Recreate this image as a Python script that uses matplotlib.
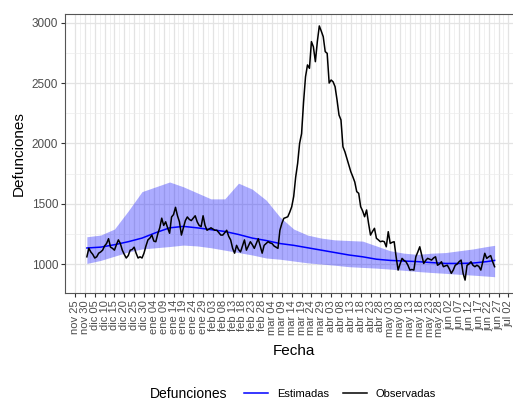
import matplotlib
matplotlib.use("Agg")
import matplotlib.pyplot as plt
from matplotlib.ticker import MultipleLocator
import pandas as pd

plt.rcParams["font.family"] = ["Liberation Sans", "DejaVu Sans"]

# observed deaths, daily, 2019-12-01 .. 2020-06-25
observadas = [
    1060, 1130, 1100, 1080, 1050, 1060, 1090,
    1100, 1115, 1150, 1170, 1210, 1140, 1130,
    1115, 1160, 1200, 1170, 1115, 1080, 1050,
    1070, 1115, 1120, 1140, 1090, 1050, 1060,
    1050, 1090, 1150, 1200, 1215, 1240, 1190,
    1185, 1250, 1300, 1380, 1320, 1350, 1300,
    1255, 1390, 1410, 1470, 1400, 1350, 1240,
    1300, 1360, 1390, 1370, 1360, 1380, 1400,
    1350, 1320, 1310, 1400, 1320, 1280, 1290,
    1300, 1290, 1280, 1280, 1260, 1240, 1240,
    1260, 1280, 1230, 1200, 1130, 1090, 1155,
    1120, 1100, 1150, 1200, 1115, 1150, 1185,
    1160, 1130, 1170, 1210, 1150, 1090, 1155,
    1170, 1185, 1175, 1170, 1150, 1140, 1130,
    1280, 1337, 1379, 1385, 1392, 1430, 1475,
    1560, 1720, 1834, 2000, 2080, 2340, 2552,
    2650, 2622, 2843, 2800, 2677, 2843, 2973,
    2930, 2884, 2760, 2746, 2500, 2525, 2510,
    2470, 2360, 2235, 2194, 1972, 1930, 1876,
    1820, 1765, 1724, 1680, 1600, 1586, 1475,
    1440, 1392, 1448, 1337, 1240, 1270, 1296,
    1213, 1200, 1185, 1190, 1185, 1143, 1268,
    1171, 1180, 1185, 1060, 950, 1000, 1047,
    1030, 1019, 990, 950, 955, 950, 1060,
    1100, 1143, 1075, 1005, 1030, 1047, 1040,
    1033, 1050, 1060, 990, 1000, 1019, 978,
    985, 990, 960, 923, 950, 990, 1000,
    1020, 1033, 923, 867, 990, 1000, 1019,
    990, 978, 990, 980, 950, 1020, 1089,
    1047, 1060, 1070, 1019, 978,
]
fechas_obs = pd.date_range("2019-12-01", periods=len(observadas), freq="D")

# estimated deaths and band, weekly points + last day
fechas_est = pd.date_range("2019-12-01", periods=30, freq="7D").append(pd.DatetimeIndex(["2020-06-25"]))
estimadas = [1133, 1140, 1160, 1185, 1215, 1260, 1300, 1312, 1300, 1285,
             1270, 1245, 1215, 1195, 1170, 1155, 1135, 1115, 1095, 1075,
             1060, 1040, 1030, 1025, 1020, 1012, 1005, 1005, 1008, 1020, 1030]
superior = [1226, 1240, 1290, 1440, 1600, 1640, 1680, 1640, 1590, 1540,
            1540, 1670, 1620, 1530, 1390, 1290, 1240, 1215, 1200, 1195,
            1190, 1150, 1110, 1090, 1080, 1090, 1095, 1110, 1125, 1145, 1155]
inferior = [1005, 1030, 1065, 1100, 1125, 1135, 1145, 1157, 1150, 1135,
            1115, 1095, 1075, 1050, 1040, 1025, 1010, 1000, 990, 978,
            972, 966, 958, 948, 938, 930, 923, 915, 908, 900, 895]

meses = {11: "nov", 12: "dic", 1: "ene", 2: "feb", 3: "mar", 4: "abr",
         5: "may", 6: "jun", 7: "jul"}
ticks = pd.date_range("2019-11-25", "2020-07-02", freq="5D")
tick_labels = [f"{meses[t.month]} {t.day:02d}" for t in ticks]

fig = plt.figure(figsize=(5.13, 4.01), dpi=100)
ax = fig.add_axes([65/513, 1-293/401, 457/513, 279/401])

ax.fill_between(fechas_est, inferior, superior, color="#0000ff", alpha=0.33, linewidth=0)
ax.plot(fechas_est, estimadas, color="#0000ff", lw=1.1, label="Estimadas")
ax.plot(fechas_obs, observadas, color="black", lw=1.1, label="Observadas")

ax.set_xticks(ticks)
ax.set_xticklabels(tick_labels, rotation=90, fontsize=8, color="#4d4d4d")
mids = ticks[:-1] + pd.Timedelta(hours=60)
ax.set_xticks(mids, minor=True)
ax.tick_params(axis="x", which="minor", length=0)
ax.yaxis.set_major_locator(MultipleLocator(500))
ax.yaxis.set_minor_locator(MultipleLocator(250))
ax.tick_params(axis="y", which="minor", length=0)
ax.tick_params(axis="both", which="major", length=3, color="#333333", width=0.8, pad=2)
ax.tick_params(axis="y", labelsize=8.5, labelcolor="#4d4d4d")

ax.grid(True, which="major", color="#e3e3e3", lw=0.9)
ax.grid(True, which="minor", color="#ececec", lw=0.5)
ax.set_axisbelow(True)
for s in ax.spines.values():
    s.set_color("#555555")
    s.set_linewidth(0.8)

ax.set_xlim(pd.Timestamp("2019-11-25") - pd.Timedelta(days=5.1),
            pd.Timestamp("2019-11-25") + pd.Timedelta(days=226.9))
ax.set_ylim(760, 3072)
ax.set_xlabel("Fecha", fontsize=11, labelpad=5)
ax.set_ylabel("Defunciones", fontsize=11, labelpad=4)

fig.text(150/513, 1-394/401, "Defunciones", fontsize=10, va="center", ha="left")
fig.legend(loc="center left", bbox_to_anchor=(234/513, 1-394/401), ncol=2,
           frameon=False, fontsize=8, handlelength=2.2, columnspacing=1.2,
           handletextpad=0.8)

fig.savefig("out.png", dpi=100)
